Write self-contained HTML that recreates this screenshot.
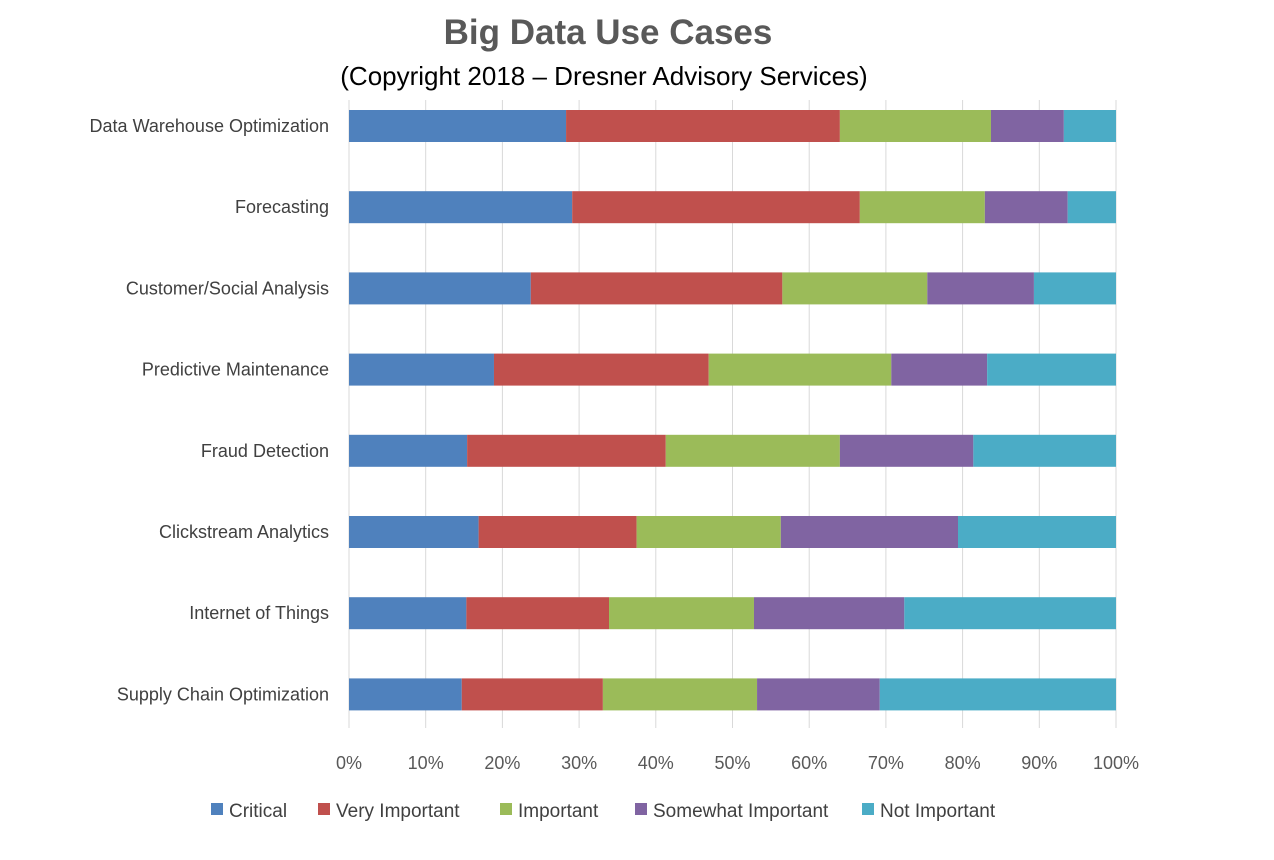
<!DOCTYPE html>
<html><head><meta charset="utf-8"><style>
body{margin:0;background:#fff;width:1274px;height:855px;overflow:hidden;font-family:"Liberation Sans",sans-serif}
</style></head><body>
<svg width="1274" height="855" xmlns="http://www.w3.org/2000/svg">
<text x="608" y="44" text-anchor="middle" font-size="35" font-weight="bold" fill="#595959">Big Data Use Cases</text>
<text x="604" y="85" text-anchor="middle" font-size="26" fill="#000">(Copyright 2018 – Dresner Advisory Services)</text>
<g id="grid"></g><g id="bars"></g><g id="ylabels"></g><g id="xlabels"></g><g id="legend"></g>
</svg>
<script>
const categories=["Data Warehouse Optimization","Forecasting","Customer/Social Analysis","Predictive Maintenance","Fraud Detection","Clickstream Analytics","Internet of Things","Supply Chain Optimization"];
const seriesNames=["Critical","Very Important","Important","Somewhat Important","Not Important"];
const critical=[28.3,29.1,23.7,18.9,15.4,16.9,15.3,14.7];
const veryImportant=[35.7,37.5,32.8,28.0,25.9,20.6,18.6,18.4];
const important=[19.7,16.3,18.9,23.8,22.7,18.8,18.9,20.1];
const somewhatImportant=[9.5,10.8,13.9,12.5,17.4,23.1,19.6,16.0];
const notImportant=[6.8,6.3,10.7,16.8,18.6,20.6,27.6,30.8];
const xTicks=["0%","10%","20%","30%","40%","50%","60%","70%","80%","90%","100%"];
const series=[critical,veryImportant,important,somewhatImportant,notImportant];
const colors=["#4f81bd","#c0504d","#9bbb59","#8064a2","#4bacc6"];
const NS="http://www.w3.org/2000/svg";
const x0=349,x1=1116;
const xs=v=>x0+(x1-x0)*v/100;
const ys=i=>126+i*81.2;
function mk(t,a,p){const e=document.createElementNS(NS,t);for(const k in a)e.setAttribute(k,a[k]);p.appendChild(e);return e;}
const grid=document.getElementById('grid'),bars=document.getElementById('bars'),yl=document.getElementById('ylabels'),xl=document.getElementById('xlabels'),lg=document.getElementById('legend');
xTicks.forEach((t,i)=>{const x=xs(i*10);
const l=mk('line',{x1:x,x2:x,y1:100,y2:728,stroke:'#d9d9d9','stroke-width':1},grid);


const tx=mk('text',{x:x,y:769,'text-anchor':'middle','font-size':18,fill:'#595959'},xl);tx.textContent=t;


});
categories.forEach((c,i)=>{const y=ys(i);let acc=0;
series.forEach((s,j)=>{const r=mk('rect',{x:xs(acc),y:y-16,width:xs(acc+s[i])-xs(acc),height:32,fill:colors[j]},bars);acc+=s[i];


});
const t=mk('text',{x:329,y:y+6,'text-anchor':'end','font-size':18,fill:'#404040'},yl);t.textContent=c;


});
const lx=[211,318,500,635,862];
seriesNames.forEach((n,j)=>{mk('rect',{x:lx[j],y:803,width:12,height:12,fill:colors[j]},lg);
const t=mk('text',{x:lx[j]+18,y:817,'font-size':19,fill:'#404040'},lg);t.textContent=n;


});
</script>
</body></html>
